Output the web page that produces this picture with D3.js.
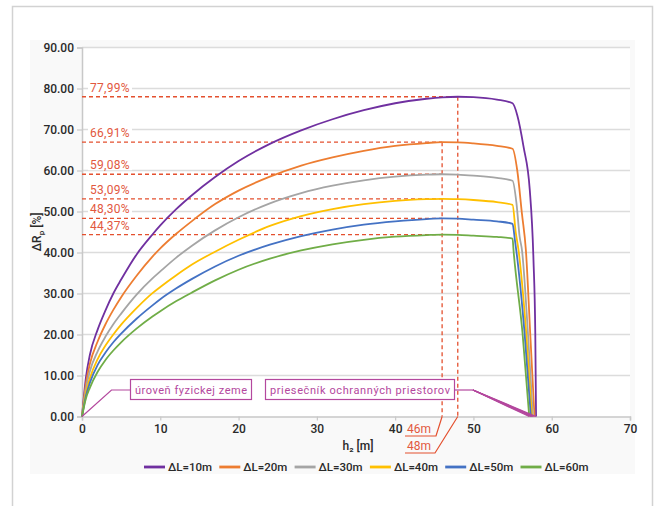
<!DOCTYPE html>
<html><head><meta charset="utf-8">
<script src="https://cdn.jsdelivr.net/npm/d3@7"></script>
<style>body{margin:0;background:#fff}svg{display:block}</style>
</head><body>
<svg id="c" width="656" height="506"></svg>
<script>
// ---- data ----
const hGrid = [0,0.5,1,2,3,4,5,7,9,10,12,14,17,20,24,28,32,36,40,44,46,48,50,53,55];
const seriesNames = ["ΔL=10m","ΔL=20m","ΔL=30m","ΔL=40m","ΔL=50m","ΔL=60m"];
const seriesColors = ["#7030a0","#ed7d31","#a5a5a5","#ffc000","#4472c4","#70ad47"];
const v10 = [0,9.5,15,21.2,25.9,30,33.4,39.6,44.4,46.6,50.5,53.9,58.4,62.3,66.5,69.8,72.5,74.7,76.4,77.5,77.85,77.99,77.9,77.3,76.4];
const v20 = [0,8.0,12.8,18.3,22.5,26,29.1,34.4,39,41,44.5,47.6,51.8,55.1,58.5,61.2,63.2,64.8,66.0,66.7,66.91,66.85,66.6,66.0,65.3];
const v30 = [0,6.8,11,15.9,19.5,22.5,25.1,29.8,33.7,35.4,38.7,41.6,45.4,48.6,52.0,54.5,56.3,57.6,58.5,58.98,59.08,59.0,58.75,58.2,57.5];
const v40 = [0,5.8,9.3,14.0,17.3,20.0,22.4,26.5,30.1,31.6,34.4,37.0,40.2,43.1,46.5,48.9,50.6,51.8,52.6,53.0,53.09,53.0,52.8,52.3,51.6];
const v50 = [0,5.0,8.2,12.6,15.6,18.1,20.2,23.9,27.1,28.6,31.2,33.5,36.6,39.2,41.9,44.0,45.6,46.8,47.6,48.15,48.3,48.25,48.0,47.6,47.0];
const v60 = [0,4.4,7.0,10.9,13.8,16.1,18.1,21.5,24.4,25.7,28.1,30.2,33.2,35.8,38.5,40.5,42.0,43.1,43.85,44.25,44.37,44.3,44.1,43.8,43.4];
const tailH10 = [55.6,56.4,57.2,57.67,57.9,58.0], tailV10 = [73.5,65.8,55.2,38.2,20.4,0];
const tailH20 = [55.6,56.2,56.7,57.25,57.8],      tailV20 = [60,49.4,40.6,20.4,0];
const tailH30 = [55.5,55.9,56.2,56.96,57.6],      tailV30 = [52,43.9,40.6,20.4,0];
const tailH40 = [55.4,55.76,56.74,57.47],         tailV40 = [45,40.6,20.4,0];
const tailH50 = [55.3,55.47,56.53,57.34],         tailV50 = [43,40.6,20.4,0];
const tailH60 = [55.12,56.27,57.13],              tailV60 = [40.6,20.4,0];
const maxH = [48,46,46,46,46,46];
const maxV = [77.99,66.91,59.08,53.09,48.30,44.37];
const maxLabels = ["77,99%","66,91%","59,08%","53,09%","48,30%","44,37%"];
const xTicks = [0,10,20,30,40,50,60,70];
const yTicks = [0,10,20,30,40,50,60,70,80,90];
const markH = [46,48];
const markLabels = ["46m","48m"];
const noteLabels = ["úroveň fyzickej zeme","priesečník ochranných priestorov"];

const values = [v10,v20,v30,v40,v50,v60];
const tailsH = [tailH10,tailH20,tailH30,tailH40,tailH50,tailH60];
const tailsV = [tailV10,tailV20,tailV30,tailV40,tailV50,tailV60];

// ---- layout ----
const svg = d3.select("#c");
const L = 82, R = 630, T = 47.5, B = 416.5;
const x = d3.scaleLinear().domain([0,70]).range([L,R]);
const y = d3.scaleLinear().domain([0,90]).range([B,T]);
const font = "Roboto, 'DejaVu Sans', sans-serif";
const red = "#e4502f", redText = "#e2583e", mag = "#b4489e";

svg.append("rect").attr("x",12.5).attr("y",6.5).attr("width",640).attr("height",520)
  .attr("fill","#fff").attr("stroke","#d2d2d2").attr("stroke-width",1.5);
svg.append("rect").attr("x",30).attr("y",40).attr("width",605).attr("height",434).attr("fill","#f9f9f9");
svg.append("rect").attr("x",L).attr("y",T).attr("width",R-L).attr("height",B-T).attr("fill","#fff");

// grid
svg.append("g").selectAll("line").data(yTicks.filter(d=>d>0)).join("line")
  .attr("x1",L).attr("x2",R).attr("y1",d=>y(d)).attr("y2",d=>y(d))
  .attr("stroke","#dcdcdc").attr("stroke-width",1.5);

// axes
const yAxis = svg.append("g").attr("transform",`translate(${L},0)`)
  .call(d3.axisLeft(y).tickValues(yTicks).tickFormat(d3.format(".2f")).tickSize(5).tickPadding(3));
const xAxis = svg.append("g").attr("transform",`translate(0,${B})`)
  .call(d3.axisBottom(x).tickValues(xTicks).tickFormat(d3.format("d")).tickSize(4).tickPadding(4));
[yAxis,xAxis].forEach(g=>{
  g.select(".domain").attr("stroke","#c8c8c8").attr("stroke-width",1.5);
  g.selectAll(".tick line").attr("stroke","#c8c8c8").attr("stroke-width",1.2);
  g.selectAll("text").attr("fill","#2a2a2a").attr("font-family",font).attr("font-size",12).attr("font-weight",500);
});

// red dashed max lines and labels
const ann = svg.append("g");
maxV.forEach((v,i)=>{
  ann.append("line").attr("x1",L).attr("x2",x(maxH[i])).attr("y1",y(v)).attr("y2",y(v))
    .attr("stroke",red).attr("stroke-width",1.3).attr("stroke-dasharray","4,3");
  ann.append("rect").attr("x",L+6).attr("y",y(v)-15).attr("width",44).attr("height",11).attr("fill","#fff");
  ann.append("text").attr("x",L+8).attr("y",y(v)-5).text(maxLabels[i])
    .attr("fill",redText).attr("font-family",font).attr("font-size",12).attr("letter-spacing",0.3);
});
// vertical dashed lines
const markTop = [maxV[1], maxV[0]];
const leaderY = [436, 453];
markH.forEach((h,i)=>{
  const xv = x(h);
  ann.append("line").attr("x1",xv).attr("x2",xv).attr("y1",y(markTop[i])).attr("y2",B)
    .attr("stroke",red).attr("stroke-width",1.3).attr("stroke-dasharray","4,3");
  ann.append("path").attr("d",`M${xv},${B} L${436-i*1},${leaderY[i]} L${405},${leaderY[i]}`)
    .attr("fill","none").attr("stroke",red).attr("stroke-width",1.2);
  ann.append("text").attr("x",407).attr("y",leaderY[i]-3).text(markLabels[i])
    .attr("fill",redText).attr("font-family",font).attr("font-size",12);
});

// series
const line = d3.line().x(d=>x(d[0])).y(d=>y(d[1])).curve(d3.curveMonotoneX);
values.forEach((vals,i)=>{
  const pts = hGrid.map((h,j)=>[h,vals[j]]).concat(tailsH[i].map((h,j)=>[h,tailsV[i][j]]));
  svg.append("path").datum(pts).attr("d",line).attr("fill","none")
    .attr("stroke",seriesColors[i]).attr("stroke-width",1.8);
});

// magenta notes
const note = svg.append("g");
note.append("path").attr("d",`M${x(0)},${y(0)} L111.5,390 L130.5,390`).attr("fill","none").attr("stroke",mag).attr("stroke-width",1.2);
note.append("rect").attr("x",130.5).attr("y",379.5).attr("width",121).attr("height",20)
  .attr("fill","#fff").attr("stroke",mag).attr("stroke-width",1.2);
note.append("text").attr("x",135).attr("y",393.5).text(noteLabels[0])
  .attr("textLength",112).attr("lengthAdjust","spacing")
  .attr("fill",mag).attr("font-family",font).attr("font-size",11);
note.append("rect").attr("x",265.5).attr("y",379.5).attr("width",189).attr("height",20)
  .attr("fill","#fff").attr("stroke",mag).attr("stroke-width",1.2);
note.append("text").attr("x",270).attr("y",393.5).text(noteLabels[1])
  .attr("textLength",180).attr("lengthAdjust","spacing")
  .attr("fill",mag).attr("font-family",font).attr("font-size",11);
note.append("line").attr("x1",454.5).attr("x2",473).attr("y1",390).attr("y2",390).attr("stroke",mag).attr("stroke-width",1.2);
tailsH.forEach(th=>{
  note.append("line").attr("x1",473).attr("y1",390).attr("x2",x(th[th.length-1])).attr("y2",y(0))
    .attr("stroke",mag).attr("stroke-width",1.3);
});

// axis titles
const yt = svg.append("text").attr("transform","translate(41,232) rotate(-90)").attr("text-anchor","middle")
  .attr("fill","#2a2a2a").attr("font-family",font).attr("font-size",12).attr("font-weight",500);
yt.append("tspan").text("ΔR");
yt.append("tspan").attr("font-size",8).attr("dy",3).text("p");
yt.append("tspan").attr("dy",-3).text(" [%]");
svg.append("text").attr("x",358).attr("y",450).attr("text-anchor","middle").text("h₂ [m]")
  .attr("fill","#2a2a2a").attr("font-family",font).attr("font-size",12).attr("font-weight",500);

// legend
const lg = svg.append("g");
seriesNames.forEach((n,i)=>{
  const lx = 144 + i*75.3;
  lg.append("line").attr("x1",lx).attr("x2",lx+21).attr("y1",467).attr("y2",467)
    .attr("stroke",seriesColors[i]).attr("stroke-width",2.8);
  lg.append("text").attr("x",lx+24).attr("y",471).text(n)
    .attr("fill","#2a2a2a").attr("font-family",font).attr("font-size",11.5).attr("font-weight",500);
});
</script>
</body></html>
